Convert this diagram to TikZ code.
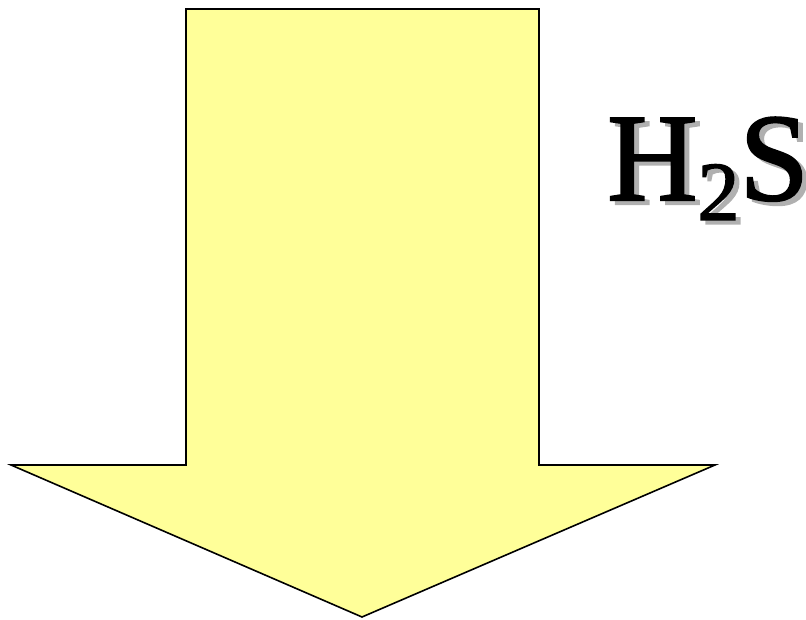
\documentclass[tikz,border=0pt]{standalone}
\usepackage{fontspec}
\setmainfont{Liberation Serif}
\newfontfamily\heavyserif[FakeBold=1.6]{Liberation Serif}
\definecolor{arrowfill}{HTML}{FFFF99}
\definecolor{shadowgray}{HTML}{B0B0B0}
\newcommand{\hts}{H\raisebox{-0.16em}{\fontsize{84}{84}\selectfont 2}S}
\begin{document}
\begin{tikzpicture}[x=1pt,y=-1pt,
  bigarrow/.style={draw=black,line width=1.6pt,fill=arrowfill,line join=miter},
  formula/.style={inner sep=0pt,anchor=base west,font=\heavyserif\fontsize{125}{125}\selectfont}]
\useasboundingbox (0,0) rectangle (806,620);
\draw[bigarrow] (186,9) -- (539,9) -- (539,465) -- (715,465) -- (362,617) -- (11,465) -- (186,465) -- cycle;
\node[formula,text=shadowgray] (shadow) at (612,204) {\hts};
\node[formula,text=black] (h2s) at (607,200) {\hts};
\end{tikzpicture}
\end{document}
